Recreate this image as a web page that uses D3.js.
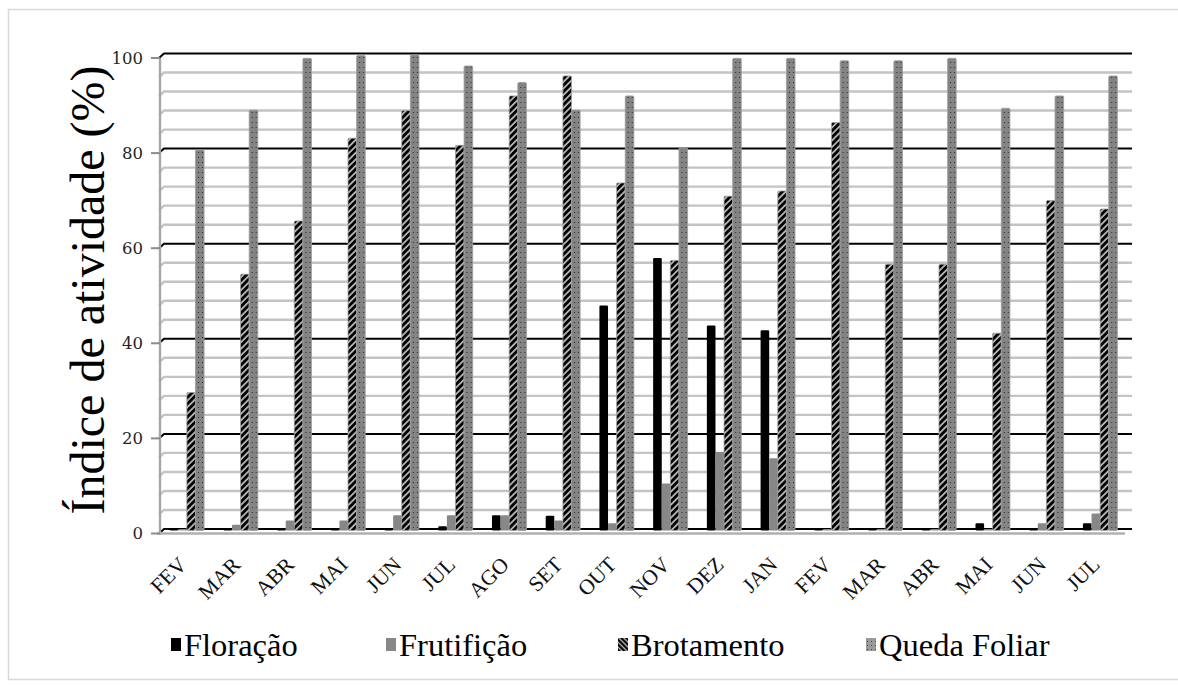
<!DOCTYPE html>
<html><head><meta charset="utf-8">
<script src="https://cdn.jsdelivr.net/npm/d3@7"></script>
<style>body{margin:0;background:#fff}</style>
</head><body><svg id="c" width="1178" height="686"></svg>
<script>
const categories = ["FEV","MAR","ABR","MAI","JUN","JUL","AGO","SET","OUT","NOV","DEZ","JAN","FEV","MAR","ABR","MAI","JUN","JUL"];
const seriesNames = ["Floração","Frutifição","Brotamento","Queda Foliar"];
const floracao     = [0,0,0,0,0,0.9,3.2,3.1,47.3,57.3,43.1,42.1,0,0,0,1.5,0.2,1.5];
const frutificacao = [0.3,1.2,2.1,2.1,3.2,3.2,3.2,2.1,1.5,9.9,16.5,15.2,0,0,0,0.3,1.5,3.6];
const brotamento   = [29,53.9,65.1,82.5,88.3,81,91.4,95.6,73.1,56.8,70.3,71.4,85.8,56,56,41.5,69.4,67.6];
const quedaFoliar  = [80,88.4,99.3,99.9,100,97.7,94.2,88.4,91.4,80.5,99.3,99.3,98.8,98.8,99.3,88.8,91.4,95.6];
const yTicks = [0,20,40,60,80,100];
const yTitle = "Índice de atividade (%)";

const seriesValues = [floracao, frutificacao, brotamento, quedaFoliar];
const fills = ["#000000", "#878787", "url(#hatch)", "url(#dots)"];
const legendFills = ["#000000", "#878787", "url(#hatchL)", "url(#dotsL)"];
const SERIF = "Liberation Serif";

const svg = d3.select("#c");
const defs = svg.append("defs");

const ph = defs.append("pattern").attr("id","hatch").attr("patternUnits","userSpaceOnUse")
  .attr("width",4.6).attr("height",4.6).attr("patternTransform","rotate(45)");
ph.append("rect").attr("width",4.6).attr("height",4.6).attr("fill","#b5b5b5");
ph.append("rect").attr("width",2.8).attr("height",4.6).attr("fill","#000");
const phl = defs.append("pattern").attr("id","hatchL").attr("patternUnits","userSpaceOnUse")
  .attr("width",3.5).attr("height",3.5).attr("patternTransform","rotate(-45)");
phl.append("rect").attr("width",3.5).attr("height",3.5).attr("fill","#bbb");
phl.append("rect").attr("width",2.2).attr("height",3.5).attr("fill","#000");
const pd = defs.append("pattern").attr("id","dots").attr("patternUnits","userSpaceOnUse")
  .attr("width",4).attr("height",5);
pd.append("rect").attr("width",4).attr("height",5).attr("fill","#848484");
pd.append("rect").attr("x",2).attr("y",2).attr("width",1).attr("height",1).attr("fill","#2a2a2a");
const pdl = defs.append("pattern").attr("id","dotsL").attr("patternUnits","userSpaceOnUse")
  .attr("width",4).attr("height",4);
pdl.append("rect").attr("width",4).attr("height",4).attr("fill","#9a9a9a");
pdl.append("rect").attr("x",1).attr("y",1).attr("width",1).attr("height",1).attr("fill","#444");

svg.append("rect").attr("x",8.5).attr("y",9.5).attr("width",1190).attr("height",670)
  .attr("fill","none").attr("stroke","#d9d9d9").attr("stroke-width",1.5);

const y = d3.scaleLinear().domain([0,100]).range([530.5,55]);
const x0 = d3.scaleBand().domain(d3.range(categories.length)).range([160,1127]).paddingInner(0).paddingOuter(0);
const x1 = d3.scaleBand().domain(d3.range(seriesNames.length)).range([0, x0.bandwidth()]).paddingInner(0).paddingOuter(1.12);

const backL = 164, backR = 1132, frontX = 160, dz = 4.5;

const minor = d3.range(0,101,4).filter(v => v % 20 !== 0);
svg.append("g").selectAll("path").data(minor).join("path")
  .attr("d", v => `M${frontX-1},${y(v)-1.5+dz} L${backL},${y(v)-1.5} L${backR},${y(v)-1.5}`)
  .attr("fill","none").attr("stroke","#c4c4c4").attr("stroke-width",2.4);
svg.append("g").selectAll("path").data(yTicks).join("path")
  .attr("d", v => `M${frontX-1},${y(v)-1.5+dz} L${backL},${y(v)-1.5} L${backR},${y(v)-1.5}`)
  .attr("fill","none").attr("stroke","#000").attr("stroke-width",2);

svg.append("line").attr("x1",frontX).attr("x2",frontX)
  .attr("y1",y(100)-1.5+dz).attr("y2",y(0)+dz).attr("stroke","#a6a6a6").attr("stroke-width",2.4);
svg.append("line").attr("x1",frontX-3).attr("x2",1125)
  .attr("y1",y(0)+3).attr("y2",y(0)+3).attr("stroke","#b0b0b0").attr("stroke-width",2.5);

const ya = svg.append("g");
ya.selectAll("line").data(yTicks).join("line")
  .attr("x1",151).attr("x2",frontX).attr("y1",v=>y(v)-1.5+dz).attr("y2",v=>y(v)-1.5+dz)
  .attr("stroke","#8c8c8c").attr("stroke-width",2);
ya.selectAll("text").data(yTicks).join("text")
  .attr("x",143).attr("y",v=>y(v)-1.5+dz).attr("dy","0.35em")
  .attr("text-anchor","end").style("font-family","DejaVu Serif").style("font-size","16.5px")
  .attr("fill","#262626").text(d=>d);

const groups = svg.append("g").selectAll("g").data(categories).join("g")
  .attr("transform",(d,i)=>`translate(${x0(i)},0)`);
groups.each(function(c,i){
  const g = d3.select(this);
  seriesValues.forEach((arr,s)=>{
    const v = arr[i];
    const top = Math.min(y(v), y(0)-1.5);
    g.append("rect").attr("x",x1(s)).attr("width",x1.bandwidth())
      .attr("y",top).attr("height",y(0)-top)
      .attr("rx",1.2)
      .attr("fill",fills[s])
      .attr("stroke", s>=2 ? "#9d9d9d" : "none").attr("stroke-width",0.8);
  });
});

svg.append("g").selectAll("text").data(categories).join("text")
  .attr("transform",(d,i)=>`translate(${x0(i)+x0.bandwidth()/2+1},566) rotate(-45)`)
  .attr("text-anchor","end").style("font-family",SERIF).style("font-size","21.5px")
  .attr("fill","#111").text(d=>d);

svg.append("text").attr("transform","translate(104,290) rotate(-90)")
  .attr("text-anchor","middle").style("font-family",SERIF).style("font-size","48px")
  .attr("fill","#000").text(yTitle);

const legendX = [171, 386, 618, 866];
const lg = svg.append("g").selectAll("g").data(seriesNames).join("g")
  .attr("transform",(d,i)=>`translate(${legendX[i]},656)`);
lg.append("rect").attr("x",0).attr("y",-18).attr("width",10).attr("height",13)
  .attr("fill",(d,i)=>legendFills[i]);
lg.append("text").attr("x",13).attr("y",0)
  .style("font-family",SERIF).style("font-size","32.5px").attr("fill","#000").text(d=>d);
</script></body></html>
